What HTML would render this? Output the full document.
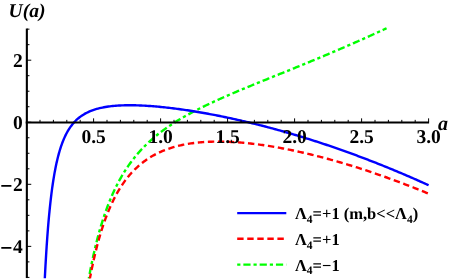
<!DOCTYPE html>
<html><head><meta charset="utf-8"><style>
html,body{margin:0;padding:0;background:#fff;}
body{width:449px;height:280px;overflow:hidden;}
svg{display:block;will-change:transform;}
text{font-family:"Liberation Serif",serif;font-weight:bold;fill:#000;text-rendering:geometricPrecision;}
</style></head><body>
<svg width="449" height="280" viewBox="0 0 449 280">
<rect width="449" height="280" fill="#fff"/>
<g fill="none" stroke-linecap="butt" stroke-linejoin="round">
<path d="M88.81,278.36 L89.08,276.89 L89.35,275.41 L89.62,273.94 L89.90,272.47 L90.18,271.00 L90.47,269.53 L90.75,268.06 L91.05,266.59 L91.34,265.13 L91.64,263.66 L91.94,262.19 L92.25,260.73 L92.56,259.26 L92.88,257.80 L93.19,256.34 L93.52,254.88 L93.84,253.42 L94.18,251.96 L94.51,250.50 L94.85,249.04 L95.20,247.58 L95.55,246.13 L95.90,244.67 L96.26,243.22 L96.63,241.77 L97.00,240.32 L97.37,238.87 L97.75,237.42 L98.14,235.97 L98.53,234.53 L98.93,233.09 L99.33,231.64 L99.74,230.20 L100.15,228.76 L100.57,227.33 L101.00,225.89 L101.43,224.46 L101.87,223.03 L102.32,221.60 L102.77,220.17 L103.23,218.75 L103.69,217.33 L104.17,215.91 L104.65,214.49 L105.14,213.07 L105.63,211.66 L106.14,210.25 L106.65,208.84 L107.17,207.44 L107.70,206.04 L108.23,204.64 L108.78,203.25 L109.33,201.86 L109.89,200.47 L110.47,199.09 L111.05,197.71 L111.64,196.33 L112.23,194.96 L112.84,193.59 L113.46,192.23 L114.09,190.87 L114.73,189.51 L115.38,188.16 L116.04,186.82 L116.71,185.48 L117.39,184.15 L118.08,182.82 L118.78,181.50 L119.49,180.18 L120.22,178.87 L120.96,177.57 L121.70,176.27 L122.46,174.98 L123.23,173.70 L124.02,172.42 L124.81,171.15 L125.62,169.89 L126.44,168.64 L127.27,167.40 L128.11,166.16 L128.97,164.93 L129.83,163.71 L130.71,162.50 L131.61,161.30 L132.51,160.10 L133.43,158.92 L134.35,157.75 L135.30,156.58 L136.25,155.43 L137.21,154.28 L138.19,153.15 L139.18,152.02 L140.18,150.91 L141.19,149.81 L142.21,148.71 L143.25,147.63 L144.29,146.56 L145.35,145.50 L146.42,144.45 L147.50,143.41 L148.58,142.38 L149.68,141.37 L150.79,140.36 L151.91,139.37 L153.04,138.38 L154.18,137.41 L155.32,136.45 L156.48,135.50 L157.64,134.55 L158.82,133.62 L160.00,132.70 L161.19,131.79 L162.38,130.90 L163.59,130.01 L164.80,129.13 L166.02,128.26 L167.24,127.40 L168.47,126.55 L169.71,125.71 L170.96,124.88 L172.21,124.05 L173.47,123.24 L174.73,122.43 L176.00,121.64 L177.27,120.85 L178.55,120.07 L179.83,119.30 L181.12,118.53 L182.41,117.78 L183.70,117.03 L185.00,116.29 L186.31,115.55 L187.62,114.82 L188.93,114.10 L190.24,113.39 L191.56,112.68 L192.88,111.98 L194.21,111.28 L195.54,110.59 L196.87,109.90 L198.20,109.22 L199.54,108.55 L200.88,107.88 L202.22,107.22 L203.56,106.56 L204.91,105.90 L206.26,105.25 L207.61,104.61 L208.96,103.97 L210.32,103.33 L211.67,102.69 L213.03,102.06 L214.39,101.44 L215.75,100.82 L217.11,100.20 L218.48,99.58 L219.84,98.97 L221.21,98.36 L222.58,97.75 L223.95,97.15 L225.32,96.54 L226.69,95.95 L228.06,95.35 L229.44,94.75 L230.81,94.16 L232.19,93.57 L233.57,92.98 L234.94,92.40 L236.32,91.81 L237.70,91.23 L239.08,90.65 L240.46,90.07 L241.84,89.49 L243.22,88.92 L244.61,88.34 L245.99,87.77 L247.37,87.20 L248.76,86.63 L250.14,86.06 L251.53,85.49 L252.91,84.92 L254.30,84.35 L255.68,83.79 L257.07,83.22 L258.45,82.66 L259.84,82.09 L261.23,81.53 L262.61,80.96 L264.00,80.40 L265.39,79.84 L266.78,79.28 L268.16,78.71 L269.55,78.15 L270.94,77.59 L272.33,77.03 L273.71,76.47 L275.10,75.91 L276.49,75.35 L277.88,74.79 L279.27,74.22 L280.65,73.66 L282.04,73.10 L283.43,72.54 L284.82,71.98 L286.20,71.42 L287.59,70.85 L288.98,70.29 L290.37,69.73 L291.75,69.17 L293.14,68.60 L294.53,68.04 L295.91,67.47 L297.30,66.91 L298.69,66.34 L300.07,65.78 L301.46,65.21 L302.84,64.64 L304.23,64.07 L305.61,63.51 L307.00,62.94 L308.38,62.37 L309.77,61.80 L311.15,61.22 L312.53,60.65 L313.92,60.08 L315.30,59.51 L316.68,58.93 L318.06,58.36 L319.44,57.78 L320.83,57.20 L322.21,56.62 L323.59,56.05 L324.97,55.47 L326.35,54.88 L327.73,54.30 L329.11,53.72 L330.48,53.14 L331.86,52.55 L333.24,51.97 L334.62,51.38 L335.99,50.79 L337.37,50.20 L338.75,49.61 L340.12,49.02 L341.50,48.43 L342.87,47.84 L344.24,47.24 L345.62,46.65 L346.99,46.05 L348.36,45.45 L349.74,44.85 L351.11,44.25 L352.48,43.65 L353.85,43.05 L355.22,42.45 L356.59,41.84 L357.96,41.24 L359.33,40.63 L360.69,40.02 L362.06,39.41 L363.43,38.80 L364.79,38.19 L366.16,37.58 L367.52,36.96 L368.89,36.34 L370.25,35.73 L371.62,35.11 L372.98,34.49 L374.34,33.87 L375.70,33.25 L377.06,32.62 L378.42,32.00 L379.78,31.37 L381.14,30.74 L382.50,30.12 L383.86,29.48 L385.22,28.85 L386.57,28.22" stroke="#00ff00" stroke-width="2.4" stroke-dasharray="3.2 2.95 7.2 2.95" stroke-dashoffset="1.8"/>
<path d="M89.91,278.37 L90.19,276.90 L90.47,275.43 L90.76,273.96 L91.05,272.50 L91.34,271.03 L91.64,269.56 L91.94,268.10 L92.25,266.63 L92.56,265.17 L92.87,263.71 L93.19,262.25 L93.51,260.78 L93.84,259.32 L94.17,257.87 L94.50,256.41 L94.84,254.95 L95.19,253.50 L95.54,252.04 L95.90,250.59 L96.26,249.14 L96.63,247.69 L97.00,246.24 L97.38,244.79 L97.76,243.35 L98.15,241.90 L98.55,240.46 L98.95,239.02 L99.36,237.58 L99.78,236.14 L100.20,234.71 L100.63,233.28 L101.06,231.84 L101.51,230.42 L101.96,228.99 L102.42,227.57 L102.88,226.14 L103.36,224.73 L103.84,223.31 L104.33,221.90 L104.83,220.49 L105.34,219.08 L105.86,217.68 L106.39,216.28 L106.92,214.88 L107.47,213.49 L108.03,212.10 L108.59,210.72 L109.17,209.34 L109.76,207.96 L110.36,206.59 L110.97,205.22 L111.59,203.86 L112.22,202.51 L112.87,201.16 L113.53,199.82 L114.20,198.48 L114.89,197.15 L115.59,195.83 L116.30,194.51 L117.02,193.20 L117.76,191.90 L118.52,190.61 L119.29,189.33 L120.07,188.06 L120.87,186.79 L121.69,185.54 L122.52,184.30 L123.37,183.06 L124.24,181.84 L125.12,180.64 L126.02,179.44 L126.93,178.26 L127.87,177.09 L128.82,175.93 L129.78,174.79 L130.77,173.67 L131.77,172.56 L132.79,171.47 L133.83,170.39 L134.89,169.33 L135.96,168.29 L137.06,167.27 L138.16,166.26 L139.29,165.28 L140.43,164.31 L141.59,163.37 L142.77,162.44 L143.96,161.54 L145.17,160.66 L146.40,159.80 L147.63,158.96 L148.89,158.14 L150.15,157.35 L151.44,156.58 L152.73,155.83 L154.04,155.10 L155.36,154.39 L156.69,153.71 L158.03,153.05 L159.38,152.41 L160.74,151.80 L162.12,151.20 L163.50,150.63 L164.89,150.08 L166.29,149.54 L167.69,149.04 L169.11,148.55 L170.53,148.08 L171.96,147.63 L173.39,147.20 L174.83,146.79 L176.27,146.39 L177.72,146.02 L179.17,145.67 L180.63,145.33 L182.09,145.01 L183.55,144.70 L185.02,144.42 L186.49,144.15 L187.97,143.89 L189.44,143.65 L190.92,143.43 L192.40,143.22 L193.89,143.02 L195.37,142.84 L196.86,142.67 L198.35,142.52 L199.84,142.38 L201.33,142.25 L202.82,142.13 L204.31,142.03 L205.80,141.94 L207.30,141.86 L208.79,141.79 L210.29,141.73 L211.78,141.68 L213.28,141.64 L214.77,141.62 L216.27,141.60 L217.76,141.59 L219.26,141.60 L220.76,141.61 L222.25,141.63 L223.75,141.66 L225.24,141.70 L226.74,141.74 L228.23,141.80 L229.73,141.86 L231.22,141.94 L232.71,142.02 L234.21,142.10 L235.70,142.20 L237.19,142.30 L238.69,142.41 L240.18,142.53 L241.67,142.65 L243.16,142.78 L244.65,142.92 L246.14,143.06 L247.62,143.21 L249.11,143.37 L250.60,143.53 L252.09,143.70 L253.57,143.87 L255.06,144.05 L256.54,144.24 L258.02,144.43 L259.51,144.63 L260.99,144.83 L262.47,145.04 L263.95,145.25 L265.43,145.47 L266.91,145.70 L268.39,145.93 L269.87,146.16 L271.34,146.40 L272.82,146.65 L274.29,146.89 L275.77,147.15 L277.24,147.41 L278.71,147.67 L280.18,147.94 L281.66,148.21 L283.13,148.49 L284.59,148.77 L286.06,149.05 L287.53,149.34 L289.00,149.64 L290.46,149.93 L291.93,150.24 L293.39,150.54 L294.86,150.85 L296.32,151.17 L297.78,151.48 L299.24,151.81 L300.70,152.13 L302.16,152.46 L303.62,152.79 L305.08,153.13 L306.53,153.47 L307.99,153.82 L309.44,154.16 L310.90,154.52 L312.35,154.87 L313.80,155.23 L315.25,155.59 L316.71,155.96 L318.16,156.32 L319.60,156.70 L321.05,157.07 L322.50,157.45 L323.95,157.83 L325.39,158.22 L326.84,158.60 L328.28,159.00 L329.72,159.39 L331.16,159.79 L332.61,160.19 L334.05,160.59 L335.49,161.00 L336.92,161.41 L338.36,161.82 L339.80,162.24 L341.24,162.66 L342.67,163.08 L344.10,163.50 L345.54,163.93 L346.97,164.36 L348.40,164.79 L349.83,165.23 L351.26,165.67 L352.69,166.11 L354.12,166.55 L355.55,167.00 L356.98,167.45 L358.40,167.90 L359.83,168.36 L361.25,168.82 L362.67,169.28 L364.10,169.74 L365.52,170.21 L366.94,170.68 L368.36,171.15 L369.78,171.62 L371.19,172.10 L372.61,172.58 L374.03,173.06 L375.44,173.54 L376.86,174.03 L378.27,174.52 L379.69,175.01 L381.10,175.50 L382.51,176.00 L383.92,176.50 L385.33,177.00 L386.74,177.50 L388.15,178.01 L389.55,178.51 L390.96,179.02 L392.36,179.54 L393.77,180.05 L395.17,180.57 L396.57,181.09 L397.98,181.61 L399.38,182.14 L400.78,182.66 L402.18,183.19 L403.57,183.72 L404.97,184.26 L406.37,184.79 L407.76,185.33 L409.16,185.87 L410.55,186.41 L411.95,186.96 L413.34,187.50 L414.73,188.05 L416.12,188.60 L417.51,189.16 L418.90,189.71 L420.29,190.27 L421.68,190.83 L423.06,191.39 L424.45,191.95 L425.83,192.52 L427.22,193.09 L428.60,193.66" stroke="#ff0000" stroke-width="2.4" stroke-dasharray="6.4 3.65" stroke-dashoffset="1.5"/>
<path d="M44.82,278.28 L44.90,276.79 L44.97,275.29 L45.05,273.79 L45.13,272.30 L45.21,270.80 L45.29,269.30 L45.37,267.81 L45.45,266.31 L45.53,264.81 L45.62,263.32 L45.70,261.82 L45.79,260.33 L45.88,258.83 L45.97,257.33 L46.06,255.84 L46.15,254.34 L46.24,252.85 L46.33,251.35 L46.43,249.86 L46.53,248.36 L46.62,246.86 L46.72,245.37 L46.82,243.87 L46.93,242.38 L47.03,240.88 L47.14,239.39 L47.24,237.89 L47.35,236.40 L47.46,234.91 L47.58,233.41 L47.69,231.92 L47.81,230.42 L47.92,228.93 L48.04,227.43 L48.17,225.94 L48.29,224.45 L48.42,222.95 L48.55,221.46 L48.68,219.97 L48.81,218.48 L48.94,216.98 L49.08,215.49 L49.22,214.00 L49.37,212.51 L49.51,211.02 L49.66,209.52 L49.81,208.03 L49.97,206.54 L50.13,205.05 L50.29,203.56 L50.45,202.07 L50.62,200.58 L50.79,199.10 L50.97,197.61 L51.14,196.12 L51.33,194.63 L51.51,193.14 L51.71,191.66 L51.90,190.17 L52.10,188.69 L52.31,187.20 L52.52,185.72 L52.73,184.24 L52.95,182.75 L53.18,181.27 L53.41,179.79 L53.64,178.31 L53.89,176.83 L54.14,175.35 L54.39,173.88 L54.66,172.40 L54.93,170.93 L55.21,169.46 L55.50,167.99 L55.79,166.52 L56.10,165.05 L56.41,163.58 L56.73,162.12 L57.07,160.66 L57.41,159.20 L57.77,157.75 L58.14,156.29 L58.52,154.84 L58.91,153.40 L59.32,151.96 L59.74,150.52 L60.18,149.09 L60.64,147.66 L61.11,146.24 L61.60,144.82 L62.11,143.41 L62.64,142.01 L63.19,140.61 L63.76,139.23 L64.36,137.86 L64.98,136.49 L65.63,135.14 L66.31,133.80 L67.01,132.48 L67.75,131.18 L68.52,129.89 L69.32,128.62 L70.15,127.38 L71.02,126.16 L71.93,124.96 L72.87,123.80 L73.85,122.66 L74.86,121.56 L75.92,120.49 L77.01,119.47 L78.13,118.47 L79.29,117.52 L80.48,116.62 L81.70,115.75 L82.96,114.93 L84.24,114.15 L85.54,113.41 L86.87,112.72 L88.22,112.07 L89.59,111.45 L90.97,110.88 L92.37,110.35 L93.79,109.85 L95.21,109.39 L96.65,108.96 L98.09,108.56 L99.54,108.20 L101.00,107.86 L102.47,107.55 L103.94,107.26 L105.42,107.00 L106.90,106.76 L108.38,106.55 L109.87,106.35 L111.35,106.17 L112.84,106.02 L114.34,105.88 L115.83,105.75 L117.32,105.64 L118.82,105.55 L120.32,105.47 L121.81,105.40 L123.31,105.35 L124.81,105.31 L126.31,105.28 L127.81,105.26 L129.30,105.25 L130.80,105.26 L132.30,105.27 L133.80,105.29 L135.30,105.32 L136.80,105.36 L138.29,105.41 L139.79,105.46 L141.29,105.52 L142.79,105.59 L144.28,105.67 L145.78,105.76 L147.28,105.85 L148.77,105.95 L150.27,106.05 L151.76,106.16 L153.25,106.28 L154.75,106.40 L156.24,106.53 L157.73,106.66 L159.23,106.80 L160.72,106.94 L162.21,107.09 L163.70,107.25 L165.19,107.40 L166.68,107.57 L168.17,107.74 L169.66,107.91 L171.15,108.09 L172.63,108.27 L174.12,108.45 L175.61,108.65 L177.09,108.84 L178.58,109.04 L180.06,109.24 L181.55,109.45 L183.03,109.66 L184.51,109.87 L186.00,110.09 L187.48,110.31 L188.96,110.54 L190.44,110.77 L191.92,111.00 L193.40,111.24 L194.88,111.48 L196.36,111.72 L197.84,111.97 L199.32,112.22 L200.79,112.47 L202.27,112.73 L203.74,112.99 L205.22,113.25 L206.69,113.52 L208.17,113.78 L209.64,114.06 L211.12,114.33 L212.59,114.61 L214.06,114.89 L215.53,115.18 L217.00,115.47 L218.47,115.76 L219.94,116.05 L221.41,116.35 L222.88,116.65 L224.35,116.95 L225.81,117.26 L227.28,117.57 L228.75,117.88 L230.21,118.19 L231.68,118.51 L233.14,118.83 L234.60,119.15 L236.07,119.47 L237.53,119.80 L238.99,120.13 L240.45,120.47 L241.91,120.80 L243.37,121.14 L244.83,121.48 L246.29,121.83 L247.75,122.17 L249.20,122.52 L250.66,122.87 L252.12,123.23 L253.57,123.59 L255.03,123.95 L256.48,124.31 L257.94,124.67 L259.39,125.04 L260.84,125.41 L262.29,125.78 L263.74,126.16 L265.19,126.53 L266.64,126.91 L268.09,127.30 L269.54,127.68 L270.99,128.07 L272.44,128.46 L273.88,128.85 L275.33,129.24 L276.77,129.64 L278.22,130.04 L279.66,130.44 L281.10,130.85 L282.55,131.25 L283.99,131.66 L285.43,132.07 L286.87,132.49 L288.31,132.90 L289.75,133.32 L291.19,133.74 L292.63,134.16 L294.06,134.59 L295.50,135.02 L296.93,135.45 L298.37,135.88 L299.80,136.31 L301.24,136.75 L302.67,137.19 L304.10,137.63 L305.53,138.07 L306.96,138.52 L308.39,138.97 L309.82,139.42 L311.25,139.87 L312.68,140.32 L314.11,140.78 L315.53,141.24 L316.96,141.70 L318.39,142.16 L319.81,142.63 L321.23,143.10 L322.66,143.57 L324.08,144.04 L325.50,144.51 L326.92,144.99 L328.34,145.47 L329.76,145.95 L331.18,146.43 L332.60,146.92 L334.02,147.40 L335.43,147.89 L336.85,148.39 L338.26,148.88 L339.68,149.37 L341.09,149.87 L342.50,150.37 L343.92,150.87 L345.33,151.38 L346.74,151.88 L348.15,152.39 L349.56,152.90 L350.96,153.41 L352.37,153.93 L353.78,154.44 L355.19,154.96 L356.59,155.48 L357.99,156.01 L359.40,156.53 L360.80,157.06 L362.20,157.59 L363.61,158.12 L365.01,158.65 L366.41,159.18 L367.81,159.72 L369.20,160.26 L370.60,160.80 L372.00,161.34 L373.40,161.89 L374.79,162.43 L376.19,162.98 L377.58,163.53 L378.97,164.08 L380.36,164.64 L381.76,165.19 L383.15,165.75 L384.54,166.31 L385.93,166.87 L387.31,167.44 L388.70,168.00 L390.09,168.57 L391.48,169.14 L392.86,169.71 L394.25,170.29 L395.63,170.86 L397.01,171.44 L398.39,172.02 L399.78,172.60 L401.16,173.18 L402.54,173.77 L403.91,174.36 L405.29,174.94 L406.67,175.53 L408.05,176.13 L409.42,176.72 L410.80,177.32 L412.17,177.91 L413.55,178.51 L414.92,179.12 L416.29,179.72 L417.66,180.32 L419.03,180.93 L420.40,181.54 L421.77,182.15 L423.14,182.76 L424.50,183.38 L425.87,183.99 L427.24,184.61 L428.60,185.23" stroke="#0000ff" stroke-width="2.4"/>
</g>
<g stroke="#000" fill="none">
<path d="M26.85,28.55 V278.05" stroke-width="2.1"/>
<path d="M25.700000000000003,122.5 H429.10" stroke-width="1.9"/>
<path d="M40.00,122.15 v-2.3 M53.40,122.15 v-2.3 M66.80,122.15 v-2.3 M80.20,122.15 v-2.3 M93.60,122.15 v-3.8 M107.00,122.15 v-2.3 M120.40,122.15 v-2.3 M133.80,122.15 v-2.3 M147.20,122.15 v-2.3 M160.60,122.15 v-3.8 M174.00,122.15 v-2.3 M187.40,122.15 v-2.3 M200.80,122.15 v-2.3 M214.20,122.15 v-2.3 M227.60,122.15 v-3.8 M241.00,122.15 v-2.3 M254.40,122.15 v-2.3 M267.80,122.15 v-2.3 M281.20,122.15 v-2.3 M294.60,122.15 v-3.8 M308.00,122.15 v-2.3 M321.40,122.15 v-2.3 M334.80,122.15 v-2.3 M348.20,122.15 v-2.3 M361.60,122.15 v-3.8 M375.00,122.15 v-2.3 M388.40,122.15 v-2.3 M401.80,122.15 v-2.3 M415.20,122.15 v-2.3 M428.60,122.15 v-3.8 M26.85,277.40 h2.6 M26.85,261.88 h2.6 M26.85,246.37 h4.4 M26.85,230.86 h2.6 M26.85,215.34 h2.6 M26.85,199.82 h2.6 M26.85,184.31 h4.4 M26.85,168.80 h2.6 M26.85,153.28 h2.6 M26.85,137.76 h2.6 M26.85,122.25 h4.4 M26.85,106.73 h2.6 M26.85,91.22 h2.6 M26.85,75.70 h2.6 M26.85,60.19 h4.4 M26.85,44.67 h2.6 M26.85,29.16 h2.6" stroke-width="1"/>
</g>
<g font-size="19.5px">
<text x="22.7" y="67.1" text-anchor="end">2</text>
<text x="22.7" y="129.1" text-anchor="end">0</text>
<text x="22.7" y="191.1" text-anchor="end">2</text>
<text x="22.7" y="253.1" text-anchor="end">4</text>
<path d="M1.3,185.9 H11.4 M1.3,247.9 H11.4" stroke="#000" stroke-width="1.8" fill="none"/>
<text x="93.6" y="143.1" text-anchor="middle">0.5</text>
<text x="160.6" y="143.1" text-anchor="middle">1.0</text>
<text x="227.6" y="143.1" text-anchor="middle">1.5</text>
<text x="294.6" y="143.1" text-anchor="middle">2.0</text>
<text x="361.6" y="143.1" text-anchor="middle">2.5</text>
<text x="428.6" y="143.1" text-anchor="middle">3.0</text>
</g>
<text x="437.9" y="129.5" font-size="20px" font-style="italic">a</text>
<text x="8.6" y="17.1" font-size="19.5px" font-style="italic">U(a)</text>
<g stroke-width="2.4" fill="none">
<path d="M237.2,213.1 H286.3" stroke="#0000ff"/>
<path d="M237.2,238.8 H286.3" stroke="#ff0000" stroke-dasharray="6.4 3.65"/>
<path d="M237.2,264.65 H286.3" stroke="#00ff00" stroke-dasharray="3.2 2.95 7.2 2.95"/>
</g>
<g font-size="16.5px">
<text x="295" y="219.4">Λ<tspan font-size="11.5px" dy="3.5">4</tspan><tspan dy="-3.5">=+1 (m,b&lt;&lt;Λ</tspan><tspan font-size="11.5px" dy="3.5">4</tspan><tspan dy="-3.5">)</tspan></text>
<text x="295" y="245.2">Λ<tspan font-size="11.5px" dy="3.5">4</tspan><tspan dy="-3.5">=+1</tspan></text>
<text x="295" y="270.6">Λ<tspan font-size="11.5px" dy="3.5">4</tspan><tspan dy="-3.5">=−1</tspan></text>
</g>
</svg>
</body></html>
